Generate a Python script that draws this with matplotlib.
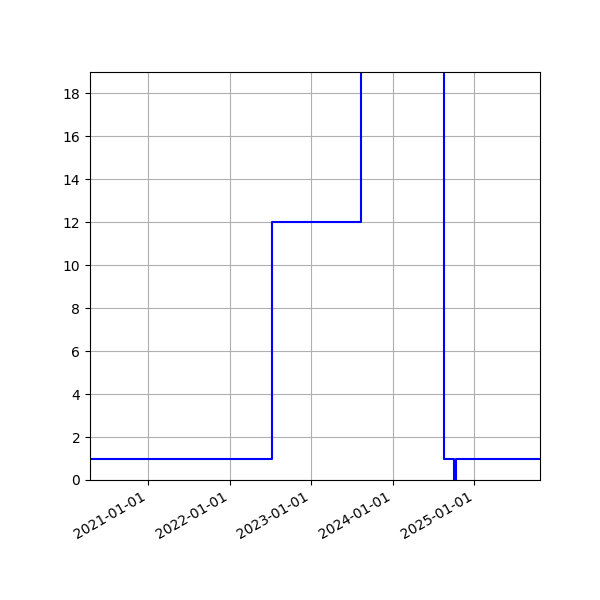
import matplotlib
matplotlib.use("Agg")
import matplotlib.pyplot as plt
import matplotlib.dates as mdates
import pandas as pd

# change dates and values (step, post)
dates = ["2020-04-16", "2022-07-08", "2023-08-12", "2024-08-20",
         "2024-10-01", "2024-10-09", "2025-10-22"]
values = [1, 12, 40, 1, 0, 1, 1]

dates = pd.to_datetime(dates)

fig = plt.figure(figsize=(6, 6), dpi=100)
ax = fig.add_subplot(111)
ax.plot(dates, values, drawstyle="steps-post", color="b")
ax.set_xlim(dates[0], dates[-1])
ax.set_ylim(0, 19)
ax.set_yticks(range(0, 19, 2))
ax.xaxis.set_major_locator(mdates.YearLocator())
ax.xaxis.set_major_formatter(mdates.DateFormatter("%Y-%m-%d"))
ax.grid(True)
fig.autofmt_xdate()
fig.subplots_adjust(left=0.15, right=0.9, top=0.88, bottom=0.2)
fig.savefig("out.png")
